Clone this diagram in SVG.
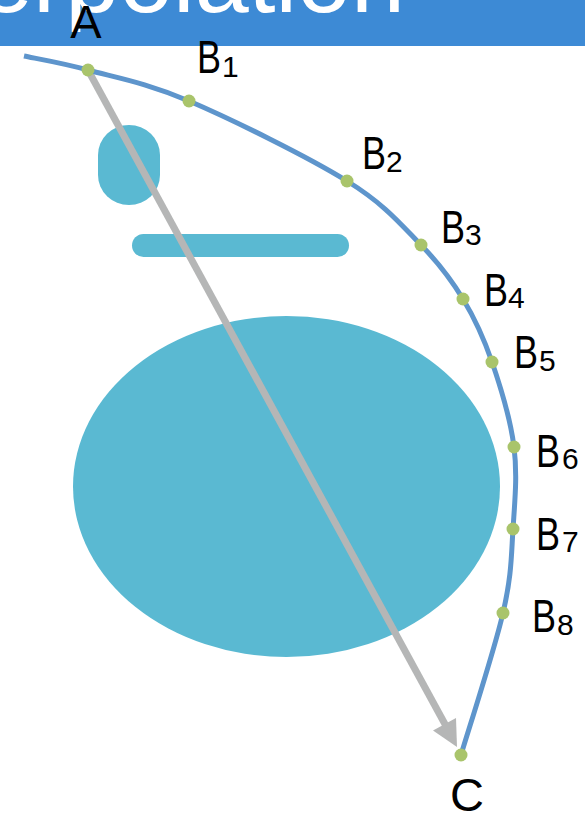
<svg xmlns="http://www.w3.org/2000/svg" width="585" height="814" viewBox="0 0 585 814">
<style>
.lbl{font-family:"Liberation Sans",Arial,sans-serif;fill:#000;font-size:47px}
.sub{font-size:30px}
.shape{fill:#5ab9d2}
.dot{fill:#a9c46b}
</style>
<rect width="585" height="814" fill="#fff"/>
<g id="banner">
<rect x="0" y="0" width="585" height="46" fill="#3d8ad5"/>
<text x="405" y="12" text-anchor="end" font-family="'Liberation Sans',Arial,sans-serif" font-size="97" fill="#fff">Interpolation</text>
</g>
<g id="head">
<rect class="shape" x="98" y="125" width="62" height="80" rx="31" ry="30"/>
<rect class="shape" x="132" y="234" width="217" height="23" rx="11.5"/>
<ellipse class="shape" cx="286.5" cy="486.5" rx="213.5" ry="170.5"/>
</g>
<g id="connectors">
<line x1="88" y1="70" x2="446" y2="726" stroke="#b5b6b6" stroke-width="7"/>
<polygon points="457,747 456,718 433,730.5" fill="#b5b6b6"/>
<path d="M24,56 C34.7,58.3 60.5,62.5 88,70 C115.5,77.5 145.8,82.5 189,101 C232.2,119.5 308.3,157 347,181 C385.7,205 401.7,225.3 421,245 C440.3,264.7 451.2,279.5 463,299 C474.8,318.5 483.5,337.3 492,362 C500.5,386.7 510.5,419.2 514,447 C517.5,474.8 514.8,501.3 513,529 C511.2,556.7 511.7,575.3 503,613 C494.3,650.7 468,731.3 461,755" fill="none" stroke="#5e95cc" stroke-width="5"/>
</g>
<g id="nodeA"><circle class="dot" cx="88" cy="70" r="6.5"/><text class="lbl" x="86" y="38" text-anchor="middle">A</text></g>
<g id="nodeB1"><circle class="dot" cx="189" cy="101" r="6.5"/><text class="lbl" x="197" y="73"><tspan textLength="24" lengthAdjust="spacingAndGlyphs">B</tspan><tspan class="sub" x="222" y="77">1</tspan></text></g>
<g id="nodeB2"><circle class="dot" cx="347" cy="181" r="6.5"/><text class="lbl" x="362" y="169"><tspan textLength="24" lengthAdjust="spacingAndGlyphs">B</tspan><tspan class="sub" x="386" y="172">2</tspan></text></g>
<g id="nodeB3"><circle class="dot" cx="421" cy="245" r="6.5"/><text class="lbl" x="441" y="243"><tspan textLength="24" lengthAdjust="spacingAndGlyphs">B</tspan><tspan class="sub" x="465" y="245">3</tspan></text></g>
<g id="nodeB4"><circle class="dot" cx="463" cy="299" r="6.5"/><text class="lbl" x="484" y="306"><tspan textLength="24" lengthAdjust="spacingAndGlyphs">B</tspan><tspan class="sub" x="508" y="308">4</tspan></text></g>
<g id="nodeB5"><circle class="dot" cx="492" cy="362" r="6.5"/><text class="lbl" x="514" y="368"><tspan textLength="24" lengthAdjust="spacingAndGlyphs">B</tspan><tspan class="sub" x="539" y="371">5</tspan></text></g>
<g id="nodeB6"><circle class="dot" cx="514" cy="447" r="6.5"/><text class="lbl" x="536" y="467"><tspan textLength="24" lengthAdjust="spacingAndGlyphs">B</tspan><tspan class="sub" x="562" y="469">6</tspan></text></g>
<g id="nodeB7"><circle class="dot" cx="513" cy="529" r="6.5"/><text class="lbl" x="536" y="550"><tspan textLength="24" lengthAdjust="spacingAndGlyphs">B</tspan><tspan class="sub" x="562" y="552">7</tspan></text></g>
<g id="nodeB8"><circle class="dot" cx="503" cy="613" r="6.5"/><text class="lbl" x="532" y="632"><tspan textLength="24" lengthAdjust="spacingAndGlyphs">B</tspan><tspan class="sub" x="557" y="635">8</tspan></text></g>
<g id="nodeC"><circle class="dot" cx="461" cy="755" r="6.5"/><text class="lbl" x="467" y="811" text-anchor="middle">C</text></g>
</svg>
